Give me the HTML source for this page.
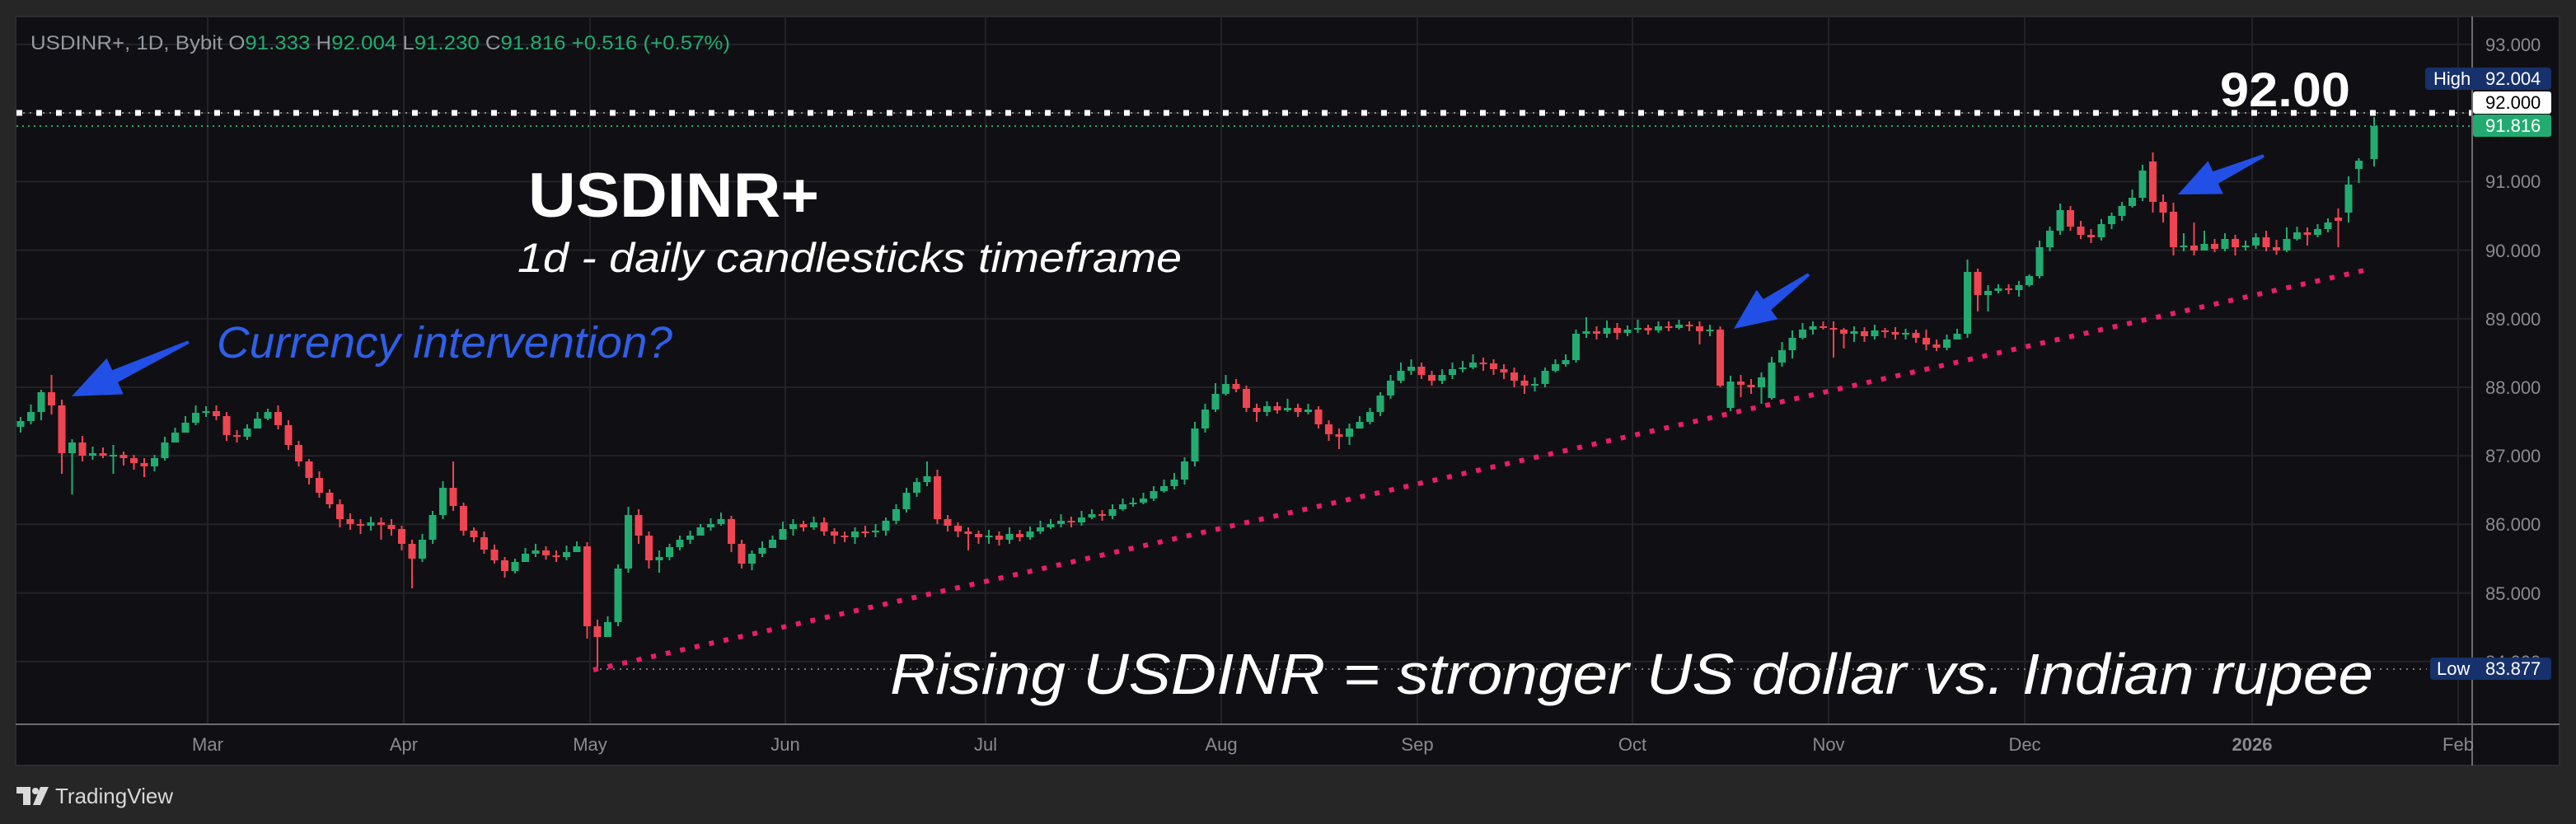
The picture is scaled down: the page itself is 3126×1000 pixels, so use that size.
<!DOCTYPE html>
<html><head><meta charset="utf-8"><style>
html,body{margin:0;padding:0;background:#262626;}
svg{display:block;}
</style></head><body>
<svg width="3126" height="1000" xmlns="http://www.w3.org/2000/svg" font-family="Liberation Sans, sans-serif">
<rect x="0" y="0" width="3126" height="1000" fill="#262626"/>
<rect x="19" y="20" width="3087" height="909" fill="#101014" stroke="#2c2c30" stroke-width="2"/>
<g stroke="#222227" stroke-width="2">
<path d="M252 20V879M490 20V879M716 20V879M953 20V879M1196 20V879M1482 20V879M1720 20V879M1981 20V879M2219 20V879M2457 20V879M2733 20V879M2983 20V879"/>
<path d="M20 54H3000M20 137.2H3000M20 220.4H3000M20 303.6H3000M20 386.8H3000M20 470H3000M20 553.2H3000M20 636.4H3000M20 719.6H3000M20 802.8H3000"/>
</g>
<!-- green candles -->
<path fill="none" stroke="#22ab70" stroke-width="2" d="M25 506V525M37.5 491V515M50 473V510M87.5 533V600M112.5 542V558M137.5 540V575M187.5 552V572M200 530V559M212.5 519V534M225 505V523M237.5 492V516M250 493V506M300 515V534M312.5 500V520M325 496V510M450 627V644M512.5 648V682M525 620V660M537.5 584V630M625 678V696M637.5 665V680M650 660V676M687.5 662V680M700 657V668M737.5 748V770M750 685V760M762.5 615V695M800 668V695M812.5 660V680M825 650V668M837.5 644V660M850 636V646M862.5 629V644M875 622V638M912.5 668V692M925 657V676M937.5 650V660M950 633V648M962.5 630V650M987.5 627V643M1037.5 640V660M1062.5 636V652M1075 628V650M1087.5 612V636M1100 592V622M1112.5 580V603M1125 560V590M1200 643V660M1225 640V660M1250 639V655M1262.5 632V648M1275 630V642M1287.5 624V640M1312.5 620V638M1325 618V630M1350 612V630M1362.5 605V620M1375 604V615M1387.5 598V612M1400 590V608M1412.5 582V598M1425 574V594M1437.5 555V588M1450 512V566M1462.5 490V525M1475 465V500M1487.5 455V480M1537.5 487V505M1562.5 484V500M1587.5 490V503M1637.5 514V540M1650 505V520M1662.5 495V515M1675 476V505M1687.5 455V484M1700 440V465M1712.5 436V455M1750 448V466M1762.5 440V460M1775 438V452M1787.5 430V448M1862.5 458V475M1875 446V470M1887.5 436V452M1900 430V445M1912.5 400V440M1925 385V410M1950 389V410M1975 395V408M1987.5 388V404M2012.5 390V404M2037.5 388V400M2075 394V408M2100 456V499M2137.5 452V490M2150 433V485M2162.5 415V445M2175 401V435M2187.5 392V412M2200 390V406M2250 396V415M2275 394V412M2312.5 399V412M2362.5 406V425M2375 399V412M2387.5 315V410M2412.5 346V378M2425 345V356M2450 341V360M2462.5 333V348M2475 292V338M2487.5 275V305M2500 247V285M2550 266V292M2562.5 258V278M2575 245V268M2587.5 230V252M2600 200V244M2650 283V305M2675 280V304M2700 283V305M2725 292V304M2737.5 283V302M2775 276V306M2787.5 275V292M2812.5 272V288M2825 265V282M2850 214V270M2862.5 192V222M2881 142V202"/>
<path fill="none" stroke="#22ab70" stroke-width="9" d="M25 511v7M37.5 500v11M50 476v24M87.5 537v13M112.5 550v3M137.5 552v2M187.5 556v10M200 537v19M212.5 525v12M225 513v12M237.5 501v12M250 499v2M300 520v10M312.5 508v12M325 500v8M450 634v4M512.5 655v23M525 625v30M537.5 592v33M625 682v11M637.5 672v10M650 668v4M687.5 670v6M700 663v7M737.5 755v18M750 690v65M762.5 625v65M800 676v4M812.5 664v12M825 655v9M837.5 650v5M850 640v10M862.5 636v4M875 630v6M912.5 672v12M925 665v7M937.5 655v10M950 642v13M962.5 636v6M987.5 634v6M1037.5 645v7M1062.5 644v2M1075 632v12M1087.5 618v14M1100 598v20M1112.5 585v13M1125 578v7M1200 650v2M1225 648v7M1250 645v7M1262.5 640v5M1275 636v4M1287.5 632v4M1312.5 628v6M1325 624v4M1350 618v8M1362.5 612v6M1375 610v2M1387.5 605v5M1400 596v9M1412.5 590v6M1425 582v8M1437.5 560v22M1450 520v40M1462.5 497v23M1475 478v19M1487.5 466v12M1537.5 493v7M1562.5 495v3M1587.5 497v3M1637.5 520v10M1650 512v8M1662.5 500v12M1675 480v20M1687.5 462v18M1700 450v12M1712.5 445v5M1750 455v7M1762.5 448v7M1775 446v2M1787.5 440v6M1862.5 466v2M1875 450v16M1887.5 442v8M1900 437v5M1912.5 405v32M1925 402v3M1950 398v7M1975 400v4M1987.5 398v2M2012.5 396v5M2037.5 394v4M2075 400v2M2100 463v32M2137.5 458v12M2150 440v43M2162.5 425v15M2175 410v15M2187.5 400v10M2200 396v4M2250 402v3M2275 401v7M2312.5 404v2M2362.5 412v10M2375 405v7M2387.5 330v75M2412.5 353v5M2425 350v3M2450 346v6M2462.5 335v11M2475 300v35M2487.5 280v20M2500 255v25M2550 272v16M2562.5 262v10M2575 250v12M2587.5 240v10M2600 207v33M2650 298v2M2675 296v8M2700 290v12M2725 298v2M2737.5 288v10M2775 290v14M2787.5 282v8M2812.5 278v7M2825 270v8M2850 224v34M2862.5 195v10M2881 153v40"/>
<!-- red candles -->
<path fill="none" stroke="#ef4451" stroke-width="2" d="M62.5 455V503M75 485V575M100 529V560M125 543V556M150 548V565M162.5 552V570M175 556V579M262.5 492V510M275 500V535M287.5 522V537M337.5 492V521M350 510V546M362.5 535V566M375 557V588M387.5 572V604M400 594V617M412.5 606V640M425 623V643M437.5 630V648M462.5 628V655M475 630V650M487.5 638V668M500 655V714M550 560V620M562.5 610V650M575 640V658M587.5 645V672M600 661V684M612.5 676V701M662.5 663V679M675 668V682M712.5 658V775M725 752V813M775 618V660M787.5 645V690M887.5 626V670M900 655V690M975 632V645M1000 628V650M1012.5 641V660M1025 645V658M1050 638V652M1137.5 570V636M1150 625V645M1162.5 634V652M1175 640V668M1187.5 644V660M1212.5 645V662M1237.5 643V657M1300 627V640M1337.5 619V632M1500 460V476M1512.5 468V500M1525 490V512M1550 488V502M1575 490V506M1600 493V520M1612.5 510V535M1625 520V545M1725 440V460M1737.5 450V468M1800 434V450M1812.5 436V455M1825 442V460M1837.5 446V470M1850 455V478M1937.5 396V412M1962.5 392V412M2000 394V406M2025 390V402M2050 390V402M2062.5 390V418M2087.5 396V470M2112.5 455V482M2125 460V478M2212.5 390V400M2225 390V434M2237.5 398V423M2262.5 397V415M2287.5 398V410M2300 397V412M2325 400V416M2337.5 400V425M2350 412V426M2400 326V378M2437.5 345V357M2512.5 250V280M2525 268V290M2537.5 278V295M2612.5 185V258M2625 236V270M2637.5 246V310M2662.5 270V310M2687.5 290V306M2712.5 285V310M2750 280V305M2762.5 291V309M2800 276V298M2837.5 253V300"/>
<path fill="none" stroke="#ef4451" stroke-width="9" d="M62.5 476v16M75 492v58M100 537v16M125 550v3M150 552v4M162.5 556v6M175 562v4M262.5 499v6M275 505v23M287.5 528v2M337.5 500v16M350 516v24M362.5 540v20M375 560v20M387.5 580v18M400 598v14M412.5 612v18M425 630v6M437.5 636v2M462.5 634v3M475 637v5M487.5 642v18M500 660v18M550 592v22M562.5 614v30M575 644v8M587.5 652v15M600 667v13M612.5 680v13M662.5 668v6M675 674v2M712.5 663v97M725 760v13M775 625v25M787.5 650v30M887.5 630v30M900 660v24M975 636v4M1000 634v11M1012.5 645v5M1025 650v2M1050 645v2M1137.5 578v52M1150 630v8M1162.5 638v7M1175 645v3M1187.5 648v4M1212.5 650v5M1237.5 648v4M1300 632v2M1337.5 624v2M1500 466v6M1512.5 472v23M1525 495v5M1550 493v5M1575 495v5M1600 497v18M1612.5 515v12M1625 527v3M1725 445v10M1737.5 455v7M1800 440v2M1812.5 441v7M1825 448v4M1837.5 452v10M1850 462v6M1937.5 402v3M1962.5 398v6M2000 398v3M2025 396v2M2050 394v2M2062.5 396v6M2087.5 400v68M2112.5 463v4M2125 467v3M2212.5 396v2M2225 398v2M2237.5 400v5M2262.5 402v6M2287.5 401v2M2300 403v3M2325 404v6M2337.5 410v8M2350 418v4M2400 330v28M2437.5 350v2M2512.5 255v20M2525 275v10M2537.5 285v3M2612.5 196v49M2625 245v13M2637.5 257v43M2662.5 298v6M2687.5 296v6M2712.5 290v10M2750 288v12M2762.5 300v4M2800 282v3M2837.5 264v4"/>
<!-- price level lines -->
<line x1="20" y1="137" x2="3000" y2="137" stroke="#8a8a8a" stroke-width="2" stroke-dasharray="2 6"/>
<line x1="20" y1="137" x2="3000" y2="137" stroke="#ffffff" stroke-width="7" stroke-dasharray="7 17"/>
<line x1="20" y1="153" x2="3000" y2="153" stroke="#22ab70" stroke-width="2" stroke-dasharray="2 5"/>
<line x1="720" y1="812" x2="2945" y2="812" stroke="#777" stroke-width="2" stroke-dasharray="2 6"/>
<line x1="720" y1="813" x2="2874" y2="327" stroke="#e91e63" stroke-width="6" stroke-dasharray="6 12"/>
<!-- arrows -->
<g fill="#2250e6">
<polygon points="228.2,413.2 136.2,449.3 129.5,434.8 87,481 149.7,478.4 143,463.9 229.8,416.8"/>
<polygon points="2193.8,331.4 2139.8,363.1 2131.6,351.8 2104,399 2157.4,387.4 2149.2,376.1 2196.2,334.6"/>
<polygon points="2746.2,187.2 2685.3,208.1 2679.5,195.4 2643,236 2697.7,235.4 2691.9,222.7 2747.8,190.8"/>
</g>
<!-- axes -->
<line x1="3000" y1="20" x2="3000" y2="929" stroke="#6b6b70" stroke-width="2"/>
<line x1="19" y1="879" x2="3106" y2="879" stroke="#6b6b70" stroke-width="2"/>
<g fill="#8a8a8f" font-size="22">
<text x="3016" y="62">93.000</text><text x="3016" y="228">91.000</text><text x="3016" y="312">90.000</text>
<text x="3016" y="395">89.000</text><text x="3016" y="478">88.000</text><text x="3016" y="561">87.000</text>
<text x="3016" y="644">86.000</text><text x="3016" y="728">85.000</text><text x="3016" y="811">84.000</text>
</g>
<g fill="#8a8a8f" font-size="22" text-anchor="middle">
<text x="252" y="911">Mar</text><text x="490" y="911">Apr</text><text x="716" y="911">May</text>
<text x="953" y="911">Jun</text><text x="1196" y="911">Jul</text><text x="1482" y="911">Aug</text>
<text x="1720" y="911">Sep</text><text x="1981" y="911">Oct</text><text x="2219" y="911">Nov</text>
<text x="2457" y="911">Dec</text><text x="2733" y="911" font-weight="bold">2026</text><text x="2983" y="911">Feb</text>
</g>
<!-- tags -->
<rect x="2943" y="82" width="153" height="27" rx="4" fill="#16316b"/>
<text x="2953" y="103" fill="#fff" font-size="22">High</text>
<text x="3016" y="103" fill="#fff" font-size="22">92.004</text>
<rect x="3001" y="111" width="95" height="27" rx="3" fill="#ffffff"/>
<text x="3016" y="132" fill="#000" font-size="22">92.000</text>
<rect x="3001" y="139" width="95" height="27" rx="3" fill="#22ab70"/>
<text x="3016" y="160" fill="#fff" font-size="22">91.816</text>
<rect x="2949" y="798" width="147" height="27" rx="4" fill="#16316b"/>
<text x="2957" y="819" fill="#fff" font-size="22">Low</text>
<text x="3016" y="819" fill="#fff" font-size="22">83.877</text>
<!-- header -->
<text x="37" y="60" font-size="24" fill="#9598a1" textLength="849" lengthAdjust="spacingAndGlyphs">USDINR+, 1D, Bybit  O<tspan fill="#22ab70">91.333</tspan>  H<tspan fill="#22ab70">92.004</tspan>  L<tspan fill="#22ab70">91.230</tspan>  C<tspan fill="#22ab70">91.816</tspan>  <tspan fill="#22ab70">+0.516 (+0.57%)</tspan></text>
<!-- annotations -->
<text x="641" y="263" font-size="76" font-weight="bold" fill="#fff" textLength="353" lengthAdjust="spacingAndGlyphs">USDINR+</text>
<text x="628" y="330" font-size="50" font-style="italic" fill="#fff" textLength="806" lengthAdjust="spacingAndGlyphs">1d - daily candlesticks timeframe</text>
<text x="263" y="434" font-size="54" font-style="italic" fill="#2f5fe8" textLength="553" lengthAdjust="spacingAndGlyphs">Currency intervention?</text>
<text x="1080" y="842" font-size="70" font-style="italic" fill="#fff" textLength="1800" lengthAdjust="spacingAndGlyphs">Rising USDINR = stronger US dollar vs. Indian rupee</text>
<text x="2694" y="129" font-size="58" font-weight="bold" fill="#fff" textLength="158" lengthAdjust="spacingAndGlyphs">92.00</text>
<!-- logo -->
<g fill="#d9d9d9">
<path d="M20 955 h17 v22 h-9 v-14 h-8z"/>
<circle cx="43" cy="960" r="4"/>
<path d="M49 955 h10 l-10 22 h-9z"/>
<text x="67" y="975" font-size="26">TradingView</text>
</g>
</svg>
</body></html>
